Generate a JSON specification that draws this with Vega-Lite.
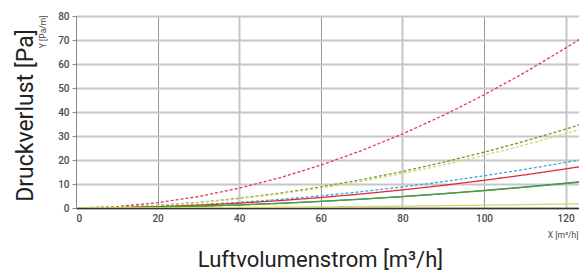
{
  "$schema": "https://vega.github.io/schema/vega-lite/v6.json",
  "width": 510,
  "height": 192,
  "autosize": {"type": "none"},
  "padding": {"left": 76, "top": 16, "right": 0, "bottom": 65},
  "background": "white",
  "config": {
    "view": {"stroke": null},
    "axis": {"labelFont": "Roboto", "titleFont": "Roboto", "labelColor": "#4a4a4a", "titleColor": "#4a4a4a"}
  },
  "data": {
    "values": [
      {"x": 0, "K1": 0, "K2": 0, "K3": 0, "K4": 0, "K5": 0, "K6": 0, "K7": 0, "K8": 0},
      {"x": 10, "K1": 0.59, "K2": 0.29, "K3": 0.28, "K4": 0.17, "K5": 0.15, "K6": 0.09, "K7": 0.09, "K8": 0.01},
      {"x": 20, "K1": 2.21, "K2": 1.09, "K3": 1.03, "K4": 0.63, "K5": 0.54, "K6": 0.34, "K7": 0.34, "K8": 0.06},
      {"x": 30, "K1": 4.78, "K2": 2.36, "K3": 2.22, "K4": 1.36, "K5": 1.17, "K6": 0.74, "K7": 0.73, "K8": 0.12},
      {"x": 40, "K1": 8.27, "K2": 4.08, "K3": 3.85, "K4": 2.35, "K5": 2.02, "K6": 1.29, "K7": 1.26, "K8": 0.21},
      {"x": 50, "K1": 12.62, "K2": 6.22, "K3": 5.87, "K4": 3.59, "K5": 3.09, "K6": 1.96, "K7": 1.93, "K8": 0.32},
      {"x": 60, "K1": 17.85, "K2": 8.8, "K3": 8.3, "K4": 5.08, "K5": 4.36, "K6": 2.78, "K7": 2.73, "K8": 0.45},
      {"x": 70, "K1": 23.93, "K2": 11.8, "K3": 11.13, "K4": 6.81, "K5": 5.85, "K6": 3.72, "K7": 3.66, "K8": 0.6},
      {"x": 80, "K1": 30.84, "K2": 15.2, "K3": 14.35, "K4": 8.78, "K5": 7.54, "K6": 4.8, "K7": 4.71, "K8": 0.77},
      {"x": 90, "K1": 38.57, "K2": 19.02, "K3": 17.95, "K4": 10.98, "K5": 9.43, "K6": 6.0, "K7": 5.89, "K8": 0.96},
      {"x": 100, "K1": 47.12, "K2": 23.23, "K3": 21.92, "K4": 13.42, "K5": 11.52, "K6": 7.33, "K7": 7.2, "K8": 1.18},
      {"x": 110, "K1": 56.47, "K2": 27.84, "K3": 26.27, "K4": 16.08, "K5": 13.8, "K6": 8.78, "K7": 8.63, "K8": 1.41},
      {"x": 120, "K1": 66.63, "K2": 32.85, "K3": 31.0, "K4": 18.97, "K5": 16.29, "K6": 10.36, "K7": 10.18, "K8": 1.67},
      {"x": 125, "K1": 72, "K2": 35.5, "K3": 33.5, "K4": 20.5, "K5": 17.6, "K6": 11.2, "K7": 11.0, "K8": 1.8}
    ]
  },
  "transform": [
    {"fold": ["K1", "K2", "K3", "K4", "K5", "K6", "K7", "K8"], "as": ["Kurve", "Wert"]}
  ],
  "layer": [
    {
      "mark": {"type": "line", "clip": true, "strokeWidth": 1.3},
      "encoding": {
        "x": {
          "field": "x", "type": "quantitative",
          "scale": {"domain": [0, 125], "nice": false},
          "axis": {
            "values": [0, 20, 40, 60, 80, 100, 120],
            "title": "X [m³/h]", "titleFontSize": 8.5, "titleFontWeight": "normal",
            "titleX": 502, "titleY": 26, "titleAlign": "right", "titleBaseline": "middle", "titleAnchor": null,
            "labelFontSize": 10, "labelFontWeight": 500, "labelPadding": 5,
            "ticks": false,
            "domainColor": "#333333", "domainWidth": 1.5,
            "grid": true,
            "gridColor": {"condition": {"test": "datum.value % 40 === 20 || datum.value === 0", "value": "#999999"}, "value": "#c6c6c6"},
            "gridWidth": {"condition": {"test": "datum.value % 40 === 20 || datum.value === 0", "value": 1}, "value": 2}
          }
        },
        "y": {
          "field": "Wert", "type": "quantitative",
          "scale": {"domain": [0, 80], "nice": false},
          "axis": {
            "values": [0, 10, 20, 30, 40, 50, 60, 70, 80],
            "title": "Y [Pa/m]", "titleFontSize": 8.5, "titleFontWeight": "normal",
            "titleX": -34, "titleY": -1, "titleAngle": -90, "titleAlign": "right", "titleBaseline": "middle", "titleAnchor": null,
            "labelFontSize": 10, "labelFontWeight": 500, "labelPadding": 3,
            "tickSize": 4, "tickColor": "#888888",
            "domainColor": "#888888", "domainWidth": 1,
            "grid": true, "gridColor": "#c6c6c6", "gridWidth": 2
          }
        },
        "color": {
          "field": "Kurve", "type": "nominal", "legend": null,
          "scale": {
            "domain": ["K1", "K2", "K3", "K4", "K5", "K6", "K7", "K8"],
            "range": ["#e53950", "#6f9a34", "#cfdc6c", "#3aa9d6", "#e02a3c", "#1898b0", "#5a9a2e", "#d0dc60"]
          }
        },
        "strokeDash": {
          "field": "Kurve", "type": "nominal", "legend": null,
          "scale": {
            "domain": ["K1", "K2", "K3", "K4", "K5", "K6", "K7", "K8"],
            "range": [[3, 2], [3, 2], [3, 2], [3, 2], [1, 0], [1, 0], [1, 0], [1, 0]]
          }
        }
      }
    },
    {
      "mark": {"type": "line", "strokeOpacity": 0},
      "encoding": {
        "x": {
          "field": "x", "type": "quantitative",
          "scale": {"domain": [0, 125], "nice": false},
          "axis": {
            "orient": "bottom", "labels": false, "ticks": false, "domain": false, "grid": false,
            "title": "Luftvolumenstrom [m³/h]", "titleFontSize": 22, "titleFontWeight": "normal", "titleColor": "#222222",
            "titleX": 244, "titleY": 51, "titleAlign": "center", "titleBaseline": "middle", "titleAnchor": null
          }
        },
        "y": {
          "field": "Wert", "type": "quantitative",
          "scale": {"domain": [0, 80], "nice": false},
          "axis": {
            "orient": "left", "labels": false, "ticks": false, "domain": false, "grid": false,
            "title": "Druckverlust [Pa]", "titleFontSize": 23, "titleFontWeight": "normal", "titleColor": "#222222",
            "titleX": -51, "titleY": 99, "titleAngle": -90, "titleAlign": "center", "titleBaseline": "middle", "titleAnchor": null
          }
        },
        "detail": {"field": "Kurve", "type": "nominal"}
      }
    }
  ],
  "resolve": {"axis": {"x": "independent", "y": "independent"}}
}
